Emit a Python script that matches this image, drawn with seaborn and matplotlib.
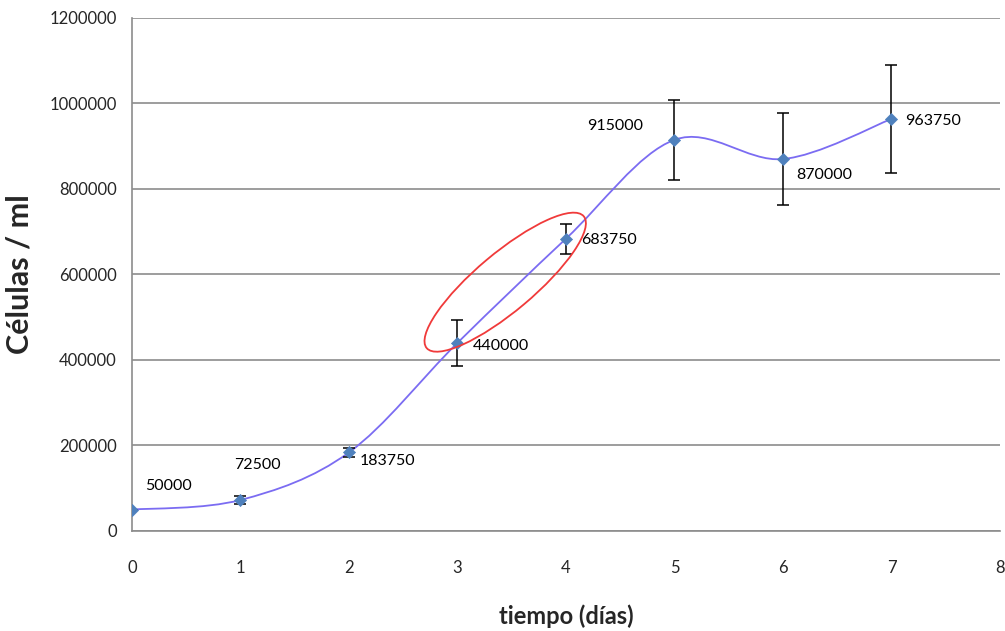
import matplotlib.pyplot as plt
import matplotlib.transforms as mtransforms
from matplotlib.path import Path
from matplotlib.patches import PathPatch, Ellipse
from matplotlib.ticker import FuncFormatter
import numpy as np
import pandas as pd
import seaborn as sns

# data
dias = [0, 1, 2, 3, 4, 5, 6, 7]
celulas = [50000, 72500, 183750, 440000, 683750, 915000, 870000, 963750]
error = [0, 10000, 11000, 53000, 35000, 93000, 107000, 126000]
etiquetas = ["50000", "72500", "183750", "440000", "683750", "915000", "870000", "963750"]

# label offsets in pixels (dx, dy, ha)
offsets = [(13, 24, 'left'), (-6, 35, 'left'), (11, -9, 'left'), (15, -3, 'left'),
           (15, -1, 'left'), (-31, 14, 'right'), (13, -16, 'left'), (14, -2, 'left')]

df = pd.DataFrame({'dias': dias, 'celulas': celulas})

sns.set_style("white")
plt.rcParams['font.family'] = ['Lato', 'DejaVu Sans']

fig = plt.figure(figsize=(10.05, 6.31), dpi=100)
ax = fig.add_axes([0.1313, 0.1585, 0.8637, 0.813])

# smoothed line (Excel style bezier through the points)
pts = np.column_stack([dias, celulas]).astype(float)
ext = np.vstack([pts[0], pts, pts[-1]])
verts = [tuple(pts[0])]
codes = [Path.MOVETO]
for i in range(len(pts) - 1):
    p0, p1, p2, p3 = ext[i], ext[i + 1], ext[i + 2], ext[i + 3]
    c1 = p1 + (p2 - p0) / 6
    c2 = p2 - (p3 - p1) / 6
    verts += [tuple(c1), tuple(c2), tuple(p2)]
    codes += [Path.CURVE4] * 3
ax.add_patch(PathPatch(Path(verts, codes), fill=False, edgecolor='#7b6cf2', lw=1.3, zorder=2))

ax.errorbar(dias, celulas, yerr=error, fmt='none', ecolor='black', elinewidth=1.1,
            capsize=4, capthick=1.1, zorder=3)
sns.scatterplot(data=df, x='dias', y='celulas', marker='D', s=38, color='#4f81bd',
                edgecolor='#4f81bd', zorder=4, ax=ax)

for x, y, t, (dx, dy, ha) in zip(dias, celulas, etiquetas, offsets):
    ax.annotate(t, (x, y), xytext=(dx, dy), textcoords='offset pixels', ha=ha,
                va='center', fontsize=11.5, color='black')

# red ellipse around days 3-4
trans = mtransforms.IdentityTransform() + mtransforms.ScaledTranslation(3.44, 582000, ax.transData)
ax.add_patch(Ellipse((0, 0), 205, 58, angle=40, transform=trans, fill=False,
                     edgecolor='#f03a3a', lw=1.3, zorder=5))

ax.set_xlim(0, 8)
ax.set_ylim(0, 1200000)
ax.set_xticks(range(0, 9))
ax.set_yticks(range(0, 1200001, 200000))
ax.yaxis.set_major_formatter(FuncFormatter(lambda v, p: f"{int(v)}"))
ax.yaxis.grid(True, color='#8c8c8c', lw=1.2)
ax.xaxis.grid(False)
for s in ['top', 'right']:
    ax.spines[s].set_visible(False)
for s in ['left', 'bottom']:
    ax.spines[s].set_color('#8c8c8c')
    ax.spines[s].set_linewidth(1.2)
ax.tick_params(axis='x', length=0, pad=21, labelsize=12)
ax.tick_params(axis='y', length=0, pad=11, labelsize=12)

ax.set_xlabel('tiempo (días)', fontsize=17, fontweight='bold')
ax.set_ylabel('Células / ml', fontsize=22, fontweight='bold')
ax.xaxis.set_label_coords(0.5, -0.144)
ax.yaxis.set_label_coords(-0.113, 0.5)

fig.savefig('out.png', dpi=100)
